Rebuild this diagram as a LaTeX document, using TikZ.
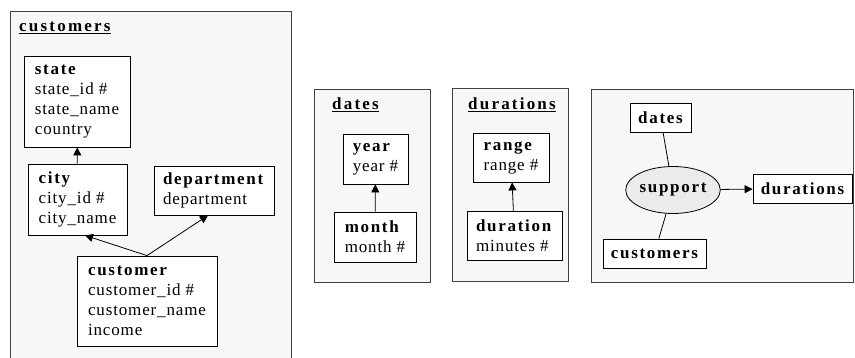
\documentclass[tikz,border=0pt]{standalone}
\usepackage{fontspec}
\usetikzlibrary{shapes.geometric, arrows.meta, positioning}
\newfontfamily\erfont[LetterSpace=5, BoldFeatures={LetterSpace=10}]{Liberation Serif}
\newfontfamily\ertitlefont[LetterSpace=13]{Liberation Serif}
\tikzset{
    container/.style={rectangle, draw=black!75, line width=0.8pt, fill=black!3},
    paneltitle/.style={anchor=base west, inner sep=0pt, font=\ertitlefont\fontsize{17}{20}\selectfont\bfseries},
    entity/.style={rectangle, draw=black, line width=0.8pt, fill=white, align=left, inner sep=0pt, font=\erfont\fontsize{17}{20}\selectfont},
    dimref/.style={rectangle, draw=black, line width=0.8pt, fill=white, inner sep=0pt, font=\erfont\fontsize{17}{20}\selectfont\bfseries},
    fact/.style={ellipse, draw=black, line width=0.8pt, fill=black!8, inner sep=0pt, font=\erfont\fontsize{17}{20}\selectfont\bfseries},
    arrow/.style={line width=0.8pt, -{Triangle[length=8pt, width=8pt]}},
    link/.style={line width=0.8pt}
}
\begin{document}
\begin{tikzpicture}[x=1pt, y=-1pt]
                \useasboundingbox (0,0) rectangle (855,358);

                % Background Containers
                \node (customers_box) [container, minimum width=281, minimum height=354] at (150.5, 188) {};
                \node (dates_box) [container, minimum width=116, minimum height=193] at (372, 185.5) {};
                \node (durations_box) [container, minimum width=116, minimum height=193] at (510, 184.5) {};
                \node (schema_box) [container, minimum width=262, minimum height=193] at (722, 185.5) {};

                % Titles of Containers
                \node (customers_title) [paneltitle] at (19, 32) {\underline{customers}};
                \node (dates_title) [paneltitle] at (332, 110) {\underline{dates}};
                \node (durations_title) [paneltitle] at (468, 110) {\underline{durations}};

                % Inside customers
                \node (state) [entity, minimum width=106, minimum height=91] at (77, 101.5) {\textbf{state}\\ state\_id \#\\ state\_name\\ country};
                \node (city) [entity, minimum width=99, minimum height=71] at (77.5, 199.5) {\textbf{city}\\ city\_id \#\\ city\_name};
                \node (department) [entity, minimum width=120, minimum height=49] at (214, 190.5) {\textbf{department}\\ department};
                \node (customer) [entity, minimum width=140, minimum height=90] at (147, 301) {\textbf{customer}\\ customer\_id \#\\ customer\_name\\ income};

                \draw [arrow] (city) -- (state);
                \draw [arrow] (customer.north) -- ([xshift=7.5pt]city.south);
                \draw [arrow] (customer.north) -- ([xshift=-6pt]department.south);

                % Inside dates
                \node (year) [entity, minimum width=65, minimum height=50] at (375.5, 159) {\textbf{year}\\ year \#};
                \node (month) [entity, minimum width=82, minimum height=50] at (375, 237) {\textbf{month}\\ month \#};
                \draw [arrow] (month) -- (year);

                % Inside durations
                \node (range) [entity, minimum width=76, minimum height=49] at (511, 157.5) {\textbf{range}\\ range \#};
                \node (duration) [entity, minimum width=95, minimum height=49] at (514.5, 235.5) {\textbf{duration}\\ minutes \#};
                \draw [arrow] (duration) -- (range);

                % Fact and its dimensions
                \node (support) [fact, minimum width=94, minimum height=47] at (673, 190) {support};
                \node (dim_dates) [dimref, minimum width=61, minimum height=29] at (660.5, 117.5) {dates};
                \node (dim_durations) [dimref, minimum width=99, minimum height=29] at (802.5, 188.5) {durations};
                \node (dim_customers) [dimref, minimum width=103, minimum height=29] at (654.5, 253.5) {customers};

                \draw [link] (dim_dates) -- (support);
                \draw [link] (dim_customers) -- (support);
                \draw [arrow] (support) -- (dim_durations);

            \end{tikzpicture}
\end{document}
